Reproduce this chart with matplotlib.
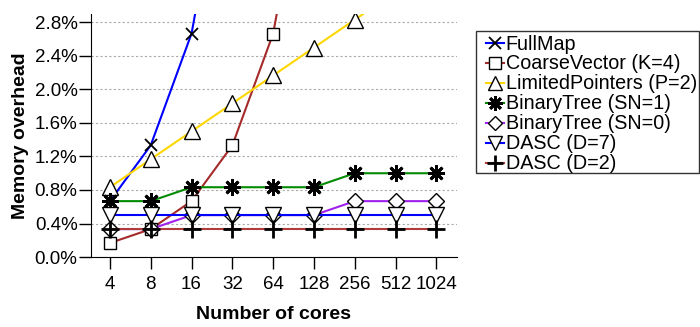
import matplotlib
matplotlib.use("Agg")
import matplotlib.pyplot as plt
from matplotlib.patches import Rectangle
import numpy as np

plt.rcParams['font.family'] = ['Liberation Sans', 'DejaVu Sans']

cores = ["4", "8", "16", "32", "64", "128", "256", "512", "1024"]

fullmap = [0.667, 1.333, 2.667, 5.333, 10.667, 21.333, 42.667, 85.333, 170.667]
coarse = [0.167, 0.333, 0.667, 1.333, 2.667, 5.333, 10.667, 21.333, 42.667]
limited = [0.833, 1.167, 1.5, 1.833, 2.167, 2.5, 2.833, 3.167, 3.5]
bt_sn1 = [0.667, 0.667, 0.833, 0.833, 0.833, 0.833, 1.0, 1.0, 1.0]
bt_sn0 = [0.333, 0.333, 0.5, 0.5, 0.5, 0.5, 0.667, 0.667, 0.667]
dasc7 = [0.5, 0.5, 0.5, 0.5, 0.5, 0.5, 0.5, 0.5, 0.5]
dasc2 = [0.333, 0.333, 0.333, 0.333, 0.333, 0.333, 0.333, 0.333, 0.333]

yticks = [0.0, 0.4, 0.8, 1.2, 1.6, 2.0, 2.4, 2.8]

W, H = 700, 327
fig = plt.figure(figsize=(7, 3.27), dpi=100)
ax = fig.add_axes([0.1296, 0.214, 0.523, 0.743])

x = np.arange(len(cores))

series = [
    ("FullMap", fullmap, "#0000ff", "x", "black", 9, 1.3),
    ("CoarseVector (K=4)", coarse, "#a52a2a", "s", "white", 9, 1.0),
    ("LimitedPointers (P=2)", limited, "#ffd700", "^", "white", 11, 1.0),
    ("BinaryTree (SN=1)", bt_sn1, "#008b00", (8, 2, 0), "black", 12, 2.0),
    ("BinaryTree (SN=0)", bt_sn0, "#a020f0", "D", "white", 8, 1.0),
    ("DASC (D=7)", dasc7, "#0000ff", "v", "white", 11, 1.0),
    ("DASC (D=2)", dasc2, "#b03c3c", "+", "black", 13, 2.0),
]

for name, vals, col, mk, fc, ms, mew in series:
    ax.plot(x, vals, color=col, lw=1.5, marker=mk, markersize=ms,
            markerfacecolor=fc, markeredgecolor="black", markeredgewidth=mew,
            label=name, clip_on=True)

ax.set_xlim(-0.47, 8.5)
ax.set_ylim(0, 2.9)
ax.set_xticks(x)
ax.set_xticklabels(cores)
ax.set_yticks(yticks)
ax.set_yticklabels(["%.1f%%" % v for v in yticks])
ax.tick_params(axis='both', labelsize=13.5, length=8.5, width=1, direction='out')
ax.tick_params(axis='x', pad=5.5)
ax.tick_params(axis='y', pad=1)
for yv in yticks:
    ax.axhline(yv, color='#aaaaaa', lw=0.8, ls=(0, (2, 2)), zorder=0.5)

ax.spines['top'].set_visible(False)
ax.spines['right'].set_visible(False)
ax.set_xlabel("Number of cores", fontsize=14, fontweight='bold', labelpad=9)
ax.set_ylabel("Memory overhead", fontsize=14, fontweight='bold', labelpad=4)

# legend frame drawn separately (box 476..699 x 31..173 px)
fig.patches.append(Rectangle((476 / W, 1 - 173 / H), (699 - 476) / W, (173 - 31) / H,
                             transform=fig.transFigure, fill=False,
                             edgecolor='#333333', lw=1.0))

leg = fig.legend(*ax.get_legend_handles_labels(), loc='upper left',
                 bbox_to_anchor=(486 / W, 1 - 34.5 / H), fontsize=14.2,
                 frameon=False, handlelength=0.9, handletextpad=0.1,
                 borderpad=0.0, labelspacing=0.05, borderaxespad=0,
                 markerscale=0.9)

fig.savefig("out.png", dpi=100)
